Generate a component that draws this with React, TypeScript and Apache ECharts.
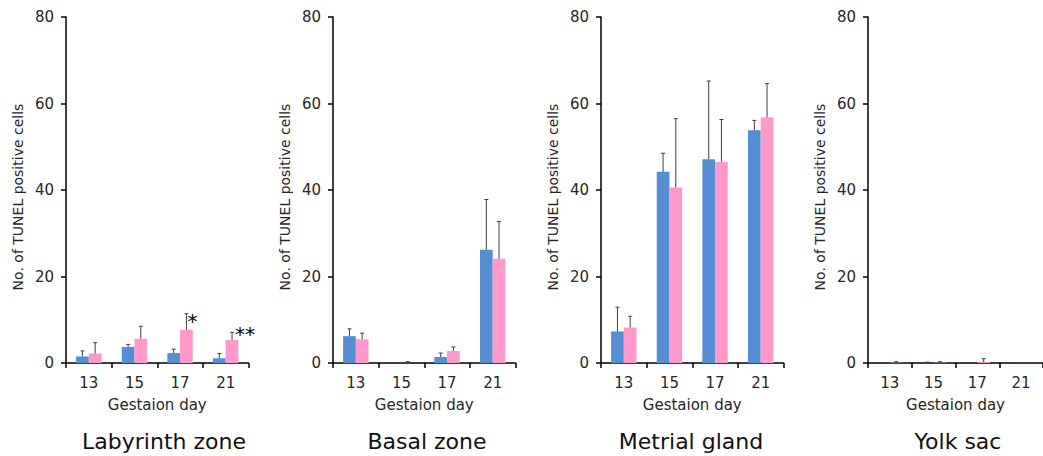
import React, { useEffect, useRef } from "react";
import * as echarts from "echarts";

const days = ["13", "15", "17", "21"];
const panelTitles = ["Labyrinth zone", "Basal zone", "Metrial gland", "Yolk sac"];

// mean values (blue = group A, pink = group B) and upper SD
const labyrinthBlue = [1.5, 3.7, 2.3, 1.1];
const labyrinthBlueErr = [1.3, 0.6, 0.9, 1.1];
const labyrinthPink = [2.2, 5.6, 7.7, 5.3];
const labyrinthPinkErr = [2.5, 2.9, 3.7, 1.8];
const labyrinthSig = ["", "", "*", "**"];

const basalBlue = [6.2, 0, 1.4, 26.2];
const basalBlueErr = [1.7, 0, 0.9, 11.6];
const basalPink = [5.5, 0, 2.8, 24.1];
const basalPinkErr = [1.4, 0.3, 0.9, 8.6];

const metrialBlue = [7.3, 44.2, 47.1, 53.8];
const metrialBlueErr = [5.6, 4.3, 18.1, 2.3];
const metrialPink = [8.2, 40.6, 46.5, 56.8];
const metrialPinkErr = [2.6, 15.9, 9.8, 7.8];

const yolkBlue = [0, 0, 0, 0];
const yolkBlueErr = [0, 0.2, 0, 0];
const yolkPink = [0.1, 0.1, 0.2, 0];
const yolkPinkErr = [0.2, 0.2, 0.8, 0];

const yTicks = [0, 20, 40, 60, 80];

const panels = [
  { blue: labyrinthBlue, blueErr: labyrinthBlueErr, pink: labyrinthPink, pinkErr: labyrinthPinkErr, sig: labyrinthSig },
  { blue: basalBlue, blueErr: basalBlueErr, pink: basalPink, pinkErr: basalPinkErr, sig: ["", "", "", ""] },
  { blue: metrialBlue, blueErr: metrialBlueErr, pink: metrialPink, pinkErr: metrialPinkErr, sig: ["", "", "", ""] },
  { blue: yolkBlue, blueErr: yolkBlueErr, pink: yolkPink, pinkErr: yolkPinkErr, sig: ["", "", "", ""] },
];

const BLUE = "#558ED5";
const PINK = "#FF99CC";
const FONT = "DejaVu Sans";
const BAR_W = 12.7;
const GRID_LEFTS = [66, 333, 601, 868];
const GRID_W = 182.5;
const GRID_TOP = 17;
const GRID_H = 346;
const TITLE_X = [164, 427, 691, 958];

export default function App() {
  const ref = useRef<HTMLDivElement>(null);

  useEffect(() => {
    if (!ref.current) return;
    const chart = echarts.init(ref.current, null, { renderer: "svg" });

    const grids: any[] = [];
    const xAxes: any[] = [];
    const yAxes: any[] = [];
    const series: any[] = [];
    const graphics: any[] = [];

    panels.forEach((p, i) => {
      grids.push({ left: GRID_LEFTS[i], top: GRID_TOP, width: GRID_W, height: GRID_H, containLabel: false });
      xAxes.push({
        type: "category",
        gridIndex: i,
        data: days,
        name: "Gestaion day",
        nameLocation: "middle",
        nameGap: 34,
        nameTextStyle: { fontFamily: FONT, fontSize: 15, color: "#262626" },
        axisLine: { lineStyle: { color: "#000", width: 1.5 } },
        axisTick: { show: true, length: 5, lineStyle: { color: "#000", width: 1.5 } },
        axisLabel: { fontFamily: FONT, fontSize: 15, color: "#262626", margin: 12 },
        splitLine: { show: false },
      });
      yAxes.push({
        type: "value",
        gridIndex: i,
        min: yTicks[0],
        max: yTicks[yTicks.length - 1],
        interval: yTicks[1] - yTicks[0],
        axisLine: { show: true, lineStyle: { color: "#000", width: 1.5 } },
        axisTick: { show: true, length: 5, lineStyle: { color: "#000", width: 1.5 } },
        axisLabel: { fontFamily: FONT, fontSize: 15, color: "#262626", margin: 12 },
        splitLine: { show: false },
      });

      series.push({
        type: "bar",
        xAxisIndex: i,
        yAxisIndex: i,
        data: p.blue,
        barWidth: BAR_W,
        barGap: "0%",
        itemStyle: { color: BLUE },
        silent: true,
      });
      series.push({
        type: "bar",
        xAxisIndex: i,
        yAxisIndex: i,
        data: p.pink,
        barWidth: BAR_W,
        barGap: "0%",
        itemStyle: { color: PINK },
        silent: true,
      });

      const makeErr = (vals: number[], errs: number[], side: number, sig: string[] | null) => ({
        type: "custom",
        xAxisIndex: i,
        yAxisIndex: i,
        silent: true,
        z: 5,
        data: vals.map((v, k) => [k, v, errs[k], side]),
        encode: { x: 0, y: 1 },
        renderItem: (params: any, api: any) => {
          const cat = api.value(0);
          const v = api.value(1);
          const e = api.value(2);
          const s = api.value(3);
          const p0 = api.coord([cat, v]);
          const p1 = api.coord([cat, v + e]);
          const x = p0[0] + (s * BAR_W) / 2;
          const children: any[] = [];
          if (e > 0) {
            children.push({
              type: "line",
              shape: { x1: x, y1: p0[1], x2: x, y2: p1[1] },
              style: { stroke: "#404040", lineWidth: 1 },
            });
            children.push({
              type: "line",
              shape: { x1: x - 2, y1: p1[1], x2: x + 2, y2: p1[1] },
              style: { stroke: "#404040", lineWidth: 1 },
            });
          }
          const mark = sig ? sig[params.dataIndex] : "";
          if (mark) {
            const double = mark.length > 1;
            children.push({
              type: "text",
              style: {
                text: mark,
                x: x + (double ? 3 : 1),
                y: p1[1] - (double ? 8 : 3),
                fill: "#000",
                font: `20px ${FONT}`,
                textAlign: "left",
                textVerticalAlign: "top",
              },
            });
          }
          return { type: "group", children };
        },
      });
      series.push(makeErr(p.blue, p.blueErr, -1, null));
      series.push(makeErr(p.pink, p.pinkErr, 1, p.sig));

      graphics.push({
        type: "text",
        x: GRID_LEFTS[i] - 48,
        y: 197,
        rotation: Math.PI / 2,
        style: {
          text: "No. of TUNEL positive cells",
          font: `14px ${FONT}`,
          fill: "#262626",
          textAlign: "center",
          textVerticalAlign: "middle",
        },
      });
      graphics.push({
        type: "text",
        x: TITLE_X[i],
        y: 441,
        style: {
          text: panelTitles[i],
          font: `22px ${FONT}`,
          fill: "#111",
          textAlign: "center",
          textVerticalAlign: "middle",
        },
      });
    });

    chart.setOption({
      animation: false,
      backgroundColor: "#fff",
      grid: grids,
      xAxis: xAxes,
      yAxis: yAxes,
      series,
      graphic: graphics,
    });

    return () => chart.dispose();
  }, []);

  return (
    <div
      ref={ref}
      style={{ position: "absolute", left: 0, top: 0, width: 1043, height: 456, background: "#fff" }}
    />
  );
}
